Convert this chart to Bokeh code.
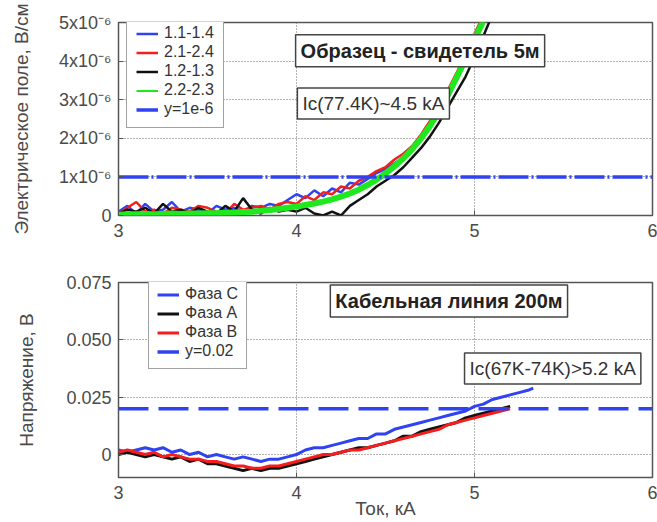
from bokeh.plotting import figure
from bokeh.layouts import column
from bokeh.models import Range1d, FixedTicker, Legend, LegendItem, Label
from bokeh.embed import file_html
from bokeh.resources import INLINE

# ---------------- top panel: electric field (units of 1e-6 V/cm) ----------------
top_x = [3.00, 3.05, 3.10, 3.15, 3.20, 3.25, 3.30, 3.35, 3.40, 3.45,
         3.50, 3.55, 3.60, 3.65, 3.70, 3.75, 3.80, 3.85, 3.90, 3.95,
         4.00, 4.05, 4.10, 4.15, 4.20, 4.25, 4.30, 4.35, 4.40, 4.45,
         4.50, 4.55, 4.60, 4.65, 4.70, 4.75, 4.80, 4.85, 4.90, 4.95,
         5.00, 5.05, 5.10]
top_blue = [0.10, 0.25, 0.05, 0.30, 0.10, 0.15, 0.35, 0.10, 0.20, 0.15,
            0.05, 0.25, 0.15, 0.20, 0.10, 0.25, 0.20, 0.30, 0.25, 0.40,
            0.55, 0.45, 0.65, 0.50, 0.70, 0.60, 0.85, 0.80, 0.95, 1.10,
            1.20, 1.35, 1.50, 1.75, 2.05, 2.35, 2.70, 3.15, 3.60, 4.10,
            4.60, 5.10, 5.60]
top_red = [0.05, 0.20, 0.35, 0.10, 0.15, 0.05, 0.20, 0.15, 0.10, 0.25,
           0.20, 0.10, 0.05, 0.30, 0.15, 0.20, 0.25, 0.15, 0.30, 0.35,
           0.30, 0.50, 0.40, 0.60, 0.55, 0.75, 0.70, 0.90, 1.00, 1.15,
           1.25, 1.45, 1.60, 1.80, 2.10, 2.45, 2.85, 3.25, 3.70, 4.20,
           4.70, 5.20, 5.70]
top_black = [0.05, 0.15, 0.10, 0.20, 0.05, 0.30, 0.10, 0.15, 0.05, 0.20,
             0.10, 0.05, 0.25, 0.10, 0.45, 0.15, 0.05, 0.20, 0.10, 0.15,
             0.10, 0.20, 0.05, 0.00, 0.10, 0.00, 0.25, 0.40, 0.55, 0.75,
             0.90, 1.05, 1.25, 1.50, 1.75, 2.05, 2.40, 2.80, 3.20, 3.60,
             4.10, 4.65, 5.20]
top_green = [0.02, 0.03, 0.03, 0.04, 0.03, 0.04, 0.05, 0.04, 0.05, 0.05,
             0.06, 0.06, 0.07, 0.08, 0.09, 0.10, 0.12, 0.14, 0.17, 0.20,
             0.23, 0.27, 0.31, 0.36, 0.42, 0.49, 0.57, 0.67, 0.79, 0.93,
             1.09, 1.27, 1.48, 1.72, 2.00, 2.32, 2.70, 3.12, 3.58, 4.05,
             4.55, 5.05, 5.55]
top_threshold = 1.0
top_labels = ["1.1-1.4", "2.1-2.4", "1.2-1.3", "2.2-2.3", "y=1e-6"]
top_yticks = [0, 1, 2, 3, 4, 5]
top_yticklabels = ["0", "1x10\u207b\u2076", "2x10\u207b\u2076", "3x10\u207b\u2076",
                   "4x10\u207b\u2076", "5x10\u207b\u2076"]
x_ticks = [3, 4, 5, 6]
x_min, x_max = 3, 6

# ---------------- bottom panel: voltage (V) ----------------
bot_x = [3.00, 3.05, 3.10, 3.15, 3.20, 3.25, 3.30, 3.35, 3.40, 3.45,
         3.50, 3.55, 3.60, 3.65, 3.70, 3.75, 3.80, 3.85, 3.90, 3.95,
         4.00, 4.05, 4.10, 4.15, 4.20, 4.25, 4.30, 4.35, 4.40, 4.45,
         4.50, 4.55, 4.60, 4.65, 4.70, 4.75, 4.80, 4.85, 4.90, 4.95,
         5.00, 5.05, 5.10, 5.15, 5.20]
bot_blue_x = [3.00, 3.05, 3.10, 3.15, 3.20, 3.25, 3.30, 3.35, 3.40, 3.45,
              3.50, 3.55, 3.60, 3.65, 3.70, 3.75, 3.80, 3.85, 3.90, 3.95,
              4.00, 4.05, 4.10, 4.15, 4.20, 4.25, 4.30, 4.35, 4.40, 4.45,
              4.50, 4.55, 4.60, 4.65, 4.70, 4.75, 4.80, 4.85, 4.90, 4.95,
              5.00, 5.05, 5.10, 5.15, 5.20, 5.25, 5.30, 5.33]
bot_blue = [0.002, 0.001, 0.002, 0.003, 0.002, 0.003, 0.001, 0.002, 0.000, 0.001,
            -0.001, 0.000, -0.001, -0.002, -0.001, -0.002, -0.003, -0.002, -0.002, -0.001,
            0.000, 0.002, 0.003, 0.003, 0.004, 0.005, 0.006, 0.007, 0.007, 0.009,
            0.009, 0.011, 0.012, 0.013, 0.014, 0.015, 0.016, 0.017, 0.018, 0.019,
            0.021, 0.022, 0.024, 0.025, 0.026, 0.027, 0.028, 0.029]
bot_black = [0.000, 0.001, 0.000, -0.001, 0.000, -0.001, -0.002, -0.001, -0.003, -0.002,
             -0.004, -0.004, -0.005, -0.006, -0.007, -0.006, -0.007, -0.006, -0.006, -0.005,
             -0.004, -0.003, -0.002, -0.001, 0.000, 0.001, 0.002, 0.003, 0.003, 0.004,
             0.005, 0.006, 0.008, 0.008, 0.010, 0.011, 0.012, 0.013, 0.014, 0.016,
             0.017, 0.018, 0.019, 0.020, 0.021]
bot_red = [0.001, 0.002, 0.001, 0.000, 0.001, -0.001, 0.000, -0.001, -0.002, -0.002,
           -0.003, -0.003, -0.004, -0.005, -0.005, -0.006, -0.006, -0.005, -0.005, -0.004,
           -0.003, -0.002, -0.001, 0.000, 0.000, 0.001, 0.002, 0.002, 0.003, 0.004,
           0.005, 0.006, 0.007, 0.008, 0.009, 0.010, 0.011, 0.013, 0.014, 0.015,
           0.016, 0.017, 0.018, 0.019, 0.020]
bot_threshold = 0.02
bot_labels = ["\u0424\u0430\u0437\u0430 C", "\u0424\u0430\u0437\u0430 A",
              "\u0424\u0430\u0437\u0430 B", "y=0.02"]
bot_yticks = [0, 0.025, 0.05, 0.075]
bot_yticklabels = ["0", "0.025", "0.050", "0.075"]

BLUE = "#2f43f2"
RED = "#f51d1d"
GREEN = "#1fe81f"
BLACK = "#111111"
FONT = "Liberation Sans"
TXT = "#4a4a4a"


def style(p, ylabel, xlabel=None):
    p.outline_line_color = "#555555"
    p.outline_line_width = 1.5
    p.background_fill_color = "white"
    p.border_fill_color = "white"
    for ax in (p.xaxis[0], p.yaxis[0]):
        ax.axis_line_color = None
        ax.major_tick_in = 5
        ax.major_tick_out = 0
        ax.major_tick_line_color = "#555555"
        ax.minor_tick_line_color = None
        ax.major_label_text_font = FONT
        ax.major_label_text_font_size = "18px"
        ax.major_label_text_color = TXT
        ax.axis_label_text_font = FONT
        ax.axis_label_text_font_size = "19px"
        ax.axis_label_text_font_style = "normal"
        ax.axis_label_text_color = TXT
    p.yaxis[0].axis_label = ylabel
    p.yaxis[0].major_label_standoff = 7
    p.xaxis[0].major_label_standoff = 8
    if xlabel:
        p.xaxis[0].axis_label = xlabel
        p.xaxis[0].axis_label_standoff = -4
    p.xaxis[0].ticker = FixedTicker(ticks=x_ticks)
    for g in (p.xgrid[0], p.ygrid[0]):
        g.grid_line_color = "#666666"
        g.grid_line_dash = "1 2"
        g.grid_line_width = 1


# ---------------- top figure ----------------
p1 = figure(width=657, height=250, output_backend="svg", toolbar_location=None,
            x_range=Range1d(x_min, x_max), y_range=Range1d(0, 5),
            min_border_left=118, min_border_right=5, min_border_top=22, min_border_bottom=35)
style(p1, "\u042d\u043b\u0435\u043a\u0442\u0440\u0438\u0447\u0435\u0441\u043a\u043e\u0435 \u043f\u043e\u043b\u0435, \u0412/\u0441\u043c")
p1.yaxis[0].ticker = FixedTicker(ticks=top_yticks)
p1.yaxis[0].major_label_overrides = {t: s for t, s in zip(top_yticks, top_yticklabels)}
p1.yaxis[0].axis_label_standoff = 24

r_b = p1.line(top_x, top_blue, color=BLUE, line_width=2.5)
r_r = p1.line(top_x, top_red, color=RED, line_width=2.5)
r_k = p1.line(top_x, top_black, color=BLACK, line_width=2.5)
r_g_leg = p1.line(top_x, top_green, color=GREEN, line_width=2)
p1.line(top_x, top_green, color=GREEN, line_width=6)
r_t = p1.line([x_min, x_max], [top_threshold, top_threshold], color=BLUE,
              line_width=3.5, line_dash="30 3 2 3")

leg1 = Legend(items=[LegendItem(label=l, renderers=[r]) for l, r in
                     zip(top_labels, [r_b, r_r, r_k, r_g_leg, r_t])],
              location=(8, 87), orientation="vertical",
              label_text_font=FONT, label_text_font_size="16px", label_text_color="#333333",
              glyph_width=22, glyph_height=17, label_height=17, label_standoff=6,
              spacing=1, padding=9, margin=0,
              border_line_color="#444444", border_line_width=1.5,
              background_fill_color="white", background_fill_alpha=1)
p1.add_layout(leg1, "center")

p1.add_layout(Label(x=3.995, y=4.27, text="\u041e\u0431\u0440\u0430\u0437\u0435\u0446 - \u0441\u0432\u0438\u0434\u0435\u0442\u0435\u043b\u044c 5\u043c",
                    text_align="left", text_baseline="middle", text_font=FONT,
                    text_font_size="20px", text_font_style="bold", text_color="#222222",
                    border_line_color="#444444", border_line_width=1.5,
                    background_fill_color="white", padding=5))
p1.add_layout(Label(x=4.005, y=2.90, text="Ic(77.4K)~4.5 kA",
                    text_align="left", text_baseline="middle", text_font=FONT,
                    text_font_size="19px", text_color="#333333",
                    border_line_color="#444444", border_line_width=1.5,
                    background_fill_color="white", padding=5))

# ---------------- bottom figure ----------------
p2 = figure(width=657, height=272, output_backend="svg", toolbar_location=None,
            x_range=Range1d(x_min, x_max), y_range=Range1d(-0.01, 0.075),
            min_border_left=118, min_border_right=5, min_border_top=32, min_border_bottom=45)
style(p2, "\u041d\u0430\u043f\u0440\u044f\u0436\u0435\u043d\u0438\u0435, \u0412", "\u0422\u043e\u043a, \u043a\u0410")
p2.yaxis[0].ticker = FixedTicker(ticks=bot_yticks)
p2.yaxis[0].major_label_overrides = {t: s for t, s in zip(bot_yticks, bot_yticklabels)}
p2.yaxis[0].axis_label_standoff = 26

q_b = p2.line(bot_blue_x, bot_blue, color=BLUE, line_width=3)
q_k = p2.line(bot_x, bot_black, color=BLACK, line_width=3)
q_r = p2.line(bot_x, bot_red, color=RED, line_width=3)
q_t = p2.line([x_min, x_max], [bot_threshold, bot_threshold], color=BLUE,
              line_width=3.5, line_dash="30 10")

leg2 = Legend(items=[LegendItem(label=l, renderers=[r]) for l, r in
                     zip(bot_labels, [q_b, q_k, q_r, q_t])],
              location=(30, 108), orientation="vertical",
              label_text_font=FONT, label_text_font_size="16px", label_text_color="#333333",
              glyph_width=22, glyph_height=17, label_height=17, label_standoff=6,
              spacing=1, padding=8, margin=0,
              border_line_color="#444444", border_line_width=1.5,
              background_fill_color="white", background_fill_alpha=1)
p2.add_layout(leg2, "center")

p2.add_layout(Label(x=4.19, y=0.0669, text="\u041a\u0430\u0431\u0435\u043b\u044c\u043d\u0430\u044f \u043b\u0438\u043d\u0438\u044f 200\u043c",
                    text_align="left", text_baseline="middle", text_font=FONT,
                    text_font_size="20px", text_font_style="bold", text_color="#222222",
                    border_line_color="#444444", border_line_width=1.5,
                    background_fill_color="white", padding=5))
p2.add_layout(Label(x=4.944, y=0.0375, text="Ic(67K-74K)>5.2 kA",
                    text_align="left", text_baseline="middle", text_font=FONT,
                    text_font_size="19px", text_color="#333333",
                    border_line_color="#444444", border_line_width=1.5,
                    background_fill_color="white", padding=5))

layout = column(p1, p2)
open("out.html", "w").write(file_html(layout, INLINE))
